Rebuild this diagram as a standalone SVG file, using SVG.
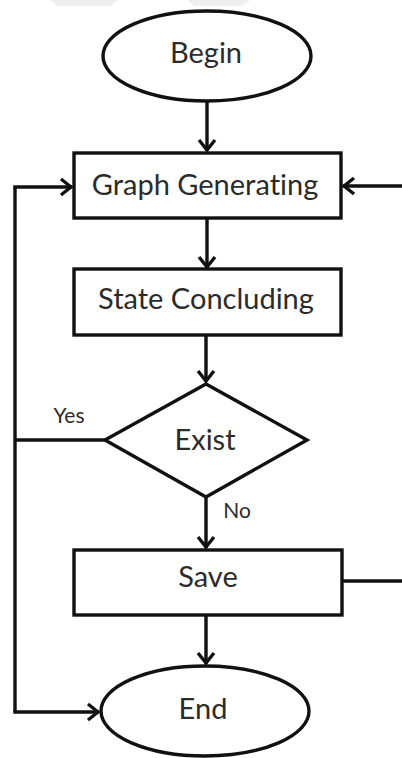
<svg xmlns="http://www.w3.org/2000/svg" width="402" height="758" viewBox="0 0 402 758">
  <style>
    .shape { fill: #ffffff; stroke: #111111; stroke-width: 3.4; }
    .edge { fill: none; stroke: #111111; stroke-width: 3.4; }
    .label { font-family: Lato, "Open Sans", "Liberation Sans", sans-serif; fill: #2b2b2b; text-anchor: middle; font-variant-ligatures: none; font-feature-settings: "liga" 0; }
    .big { font-size: 29px; }
    .small { font-size: 21px; }
  </style>
  <defs>
    <marker id="arrow" viewBox="0 0 14 20" refX="13" refY="10" markerWidth="14" markerHeight="20" markerUnits="userSpaceOnUse" orient="auto">
      <path d="M2,2 L12,10 L2,18" fill="none" stroke="#111111" stroke-width="3.4" stroke-linejoin="miter"/>
    </marker>
  </defs>

  <rect width="402" height="758" fill="#ffffff"/>
  <!-- faint banding along the top edge -->
  <polygon points="50,0 118,0 110,6 58,6" fill="#efefef"/>
  <polygon points="188,0 250,0 242,6 194,6" fill="#efefef"/>

  <g id="connectors">
    <line class="edge" x1="207" y1="102" x2="207" y2="151" marker-end="url(#arrow)"/>
    <line class="edge" x1="207" y1="218" x2="207" y2="268" marker-end="url(#arrow)"/>
    <line class="edge" x1="206" y1="335" x2="206" y2="382" marker-end="url(#arrow)"/>
    <line class="edge" x1="206" y1="497" x2="206" y2="548" marker-end="url(#arrow)"/>
    <line class="edge" x1="206" y1="615" x2="206" y2="664" marker-end="url(#arrow)"/>
    <!-- Yes branch joins the left loop -->
    <line class="edge" x1="105" y1="440" x2="15" y2="440"/>
    <polyline class="edge" points="15,187 15,712"/>
    <line class="edge" x1="13.3" y1="187" x2="72" y2="187" marker-end="url(#arrow)"/>
    <line class="edge" x1="13.3" y1="712" x2="99" y2="712" marker-end="url(#arrow)"/>
    <!-- Save returns along the right edge -->
    <line class="edge" x1="342" y1="581" x2="402" y2="581"/>
    <line class="edge" x1="402" y1="186" x2="343" y2="186" marker-end="url(#arrow)"/>
    <text class="label small" x="69" y="423">Yes</text>
    <text class="label small" x="237" y="518">No</text>
  </g>

  <g id="begin">
    <ellipse class="shape" cx="207" cy="56" rx="104" ry="45"/>
    <text class="label big" x="206" y="63">Begin</text>
  </g>
  <g id="graph-generating">
    <rect class="shape" x="74" y="153" width="267" height="65"/>
    <text class="label big" x="205" y="195">Graph Generating</text>
  </g>
  <g id="state-concluding">
    <rect class="shape" x="74" y="269" width="267" height="66"/>
    <text class="label big" x="206" y="309">State Concluding</text>
  </g>
  <g id="exist">
    <polygon class="shape" points="206,384 307,440 206,497 105,440"/>
    <text class="label big" x="205" y="450">Exist</text>
  </g>
  <g id="save">
    <rect class="shape" x="74" y="550" width="268" height="65"/>
    <text class="label big" x="208" y="587">Save</text>
  </g>
  <g id="end">
    <ellipse class="shape" cx="205" cy="711" rx="104" ry="45"/>
    <text class="label big" x="203" y="719">End</text>
  </g>
</svg>
